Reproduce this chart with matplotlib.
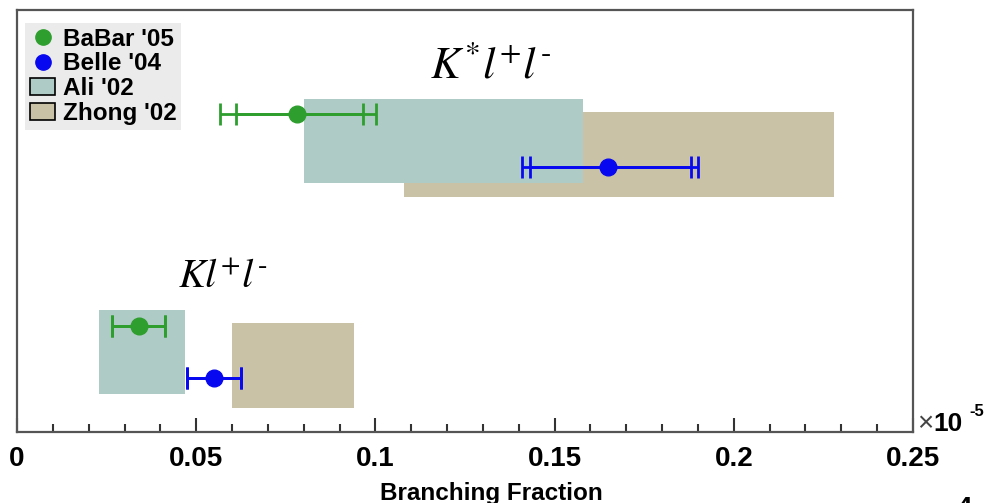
import matplotlib
matplotlib.use("Agg")
import matplotlib.pyplot as plt
from matplotlib.lines import Line2D
from matplotlib.patches import Patch, Rectangle

plt.rcParams['font.family'] = ['Liberation Sans', 'DejaVu Sans']
plt.rcParams['mathtext.fontset'] = 'stix'

# branching fractions in units of 1e-5
# measurements: (center, stat low, stat high, total low, total high, row)
babar_kstar = (0.078, 0.061, 0.0965, 0.0567, 0.1003, 7.54)
belle_kstar = (0.165, 0.143, 0.188, 0.1408, 0.190, 6.28)
babar_k = (0.034, 0.0265, 0.0413, 0.0265, 0.0413, 2.51)
belle_k = (0.055, 0.0475, 0.0625, 0.0475, 0.0625, 1.28)

# theory ranges: (low, high, row bottom, row top)
ali_kstar = (0.080, 0.158, 5.90, 7.89)
zhong_kstar = (0.108, 0.228, 5.57, 7.58)
ali_k = (0.023, 0.047, 0.90, 2.89)
zhong_k = (0.060, 0.094, 0.57, 2.58)

green = '#2e9e2e'
blue = '#0808f0'
ali_col = '#afcbc5'
zhong_col = '#c9c2a6'

fig = plt.figure(figsize=(9.85, 5.03), dpi=100)
ax = fig.add_axes([17/985, 71/503, 896/985, 422/503])


def box(r, col):
    ax.add_patch(Rectangle((r[0], r[2]), r[1] - r[0], r[3] - r[2],
                           facecolor=col, edgecolor='none', zorder=1))


box(zhong_kstar, zhong_col)
box(ali_kstar, ali_col)
box(zhong_k, zhong_col)
box(ali_k, ali_col)


def meas(m, col):
    c, slo, shi, tlo, thi, y = m
    ax.errorbar([c], [y], xerr=[[c - tlo], [thi - c]], fmt='o', color=col,
                ms=12, elinewidth=2, capsize=8, capthick=2, zorder=3)
    ax.errorbar([c], [y], xerr=[[c - slo], [shi - c]], fmt='none', ecolor=col,
                elinewidth=2, capsize=8, capthick=2, zorder=3)


meas(babar_kstar, green)
meas(belle_kstar, blue)
meas(babar_k, green)
meas(belle_k, blue)

ax.text(0.1152, 8.41, r'$K^{*}l^{+}l^{\text{-}}$', fontsize=32, ha='left', va='baseline')
ax.text(0.0449, 3.41, r'$Kl^{+}l^{\text{-}}$', fontsize=29, ha='left', va='baseline')

ax.set_xlim(0, 0.25)
ax.set_ylim(0, 10)
ax.set_xticks([0, 0.05, 0.1, 0.15, 0.2, 0.25])
ax.set_xticklabels(['0', '0.05', '0.1', '0.15', '0.2', '0.25'])
ax.set_xticks([i * 0.01 for i in range(26)], minor=True)
ax.set_yticks([])
ax.tick_params(axis='x', which='both', direction='in', top=False, color='#333333',
               width=1.5)
ax.tick_params(axis='x', which='major', length=10, pad=10, labelsize=20)
ax.tick_params(axis='x', which='minor', length=6)
for lbl in ax.get_xticklabels():
    lbl.set_fontweight('bold')
for s in ax.spines.values():
    s.set_color('#555555')
    s.set_linewidth(1.6)

ax.set_xlabel('Branching Fraction', fontsize=17.5, fontweight='bold')
ax.xaxis.set_label_coords(0.529, -0.118)

handles = [
    Line2D([], [], marker='o', ls='none', color=green, ms=11),
    Line2D([], [], marker='o', ls='none', color=blue, ms=11),
    Patch(facecolor=ali_col, edgecolor='black', lw=1.2),
    Patch(facecolor=zhong_col, edgecolor='black', lw=1.2),
]
leg = ax.legend(handles, ["BaBar '05", "Belle '04", "Ali '02", "Zhong '02"],
                loc='upper left', bbox_to_anchor=(0.009, 0.97),
                prop={'weight': 'bold', 'size': 17.5}, frameon=True,
                fancybox=False, facecolor='#ebebeb', edgecolor='none',
                framealpha=1, labelspacing=0.08, handlelength=1.05,
                handletextpad=0.3, borderpad=0.2, borderaxespad=0)

# exponent label next to the axis end
fig.text(917/985, 1 - 431/503, '\u00d7', fontsize=20, ha='left', va='baseline',
         color='#444444')
fig.text(933/985, 1 - 431/503, '10', fontsize=19, fontweight='bold',
         ha='left', va='baseline')
fig.text(969/985, 1 - 416/503, '-5', fontsize=12, fontweight='bold',
         ha='left', va='baseline')
fig.text(957/985, 1 - 496/503, '4', fontsize=20, fontweight='bold',
         ha='left', va='top')

fig.savefig('out.png', dpi=100, facecolor='white')
